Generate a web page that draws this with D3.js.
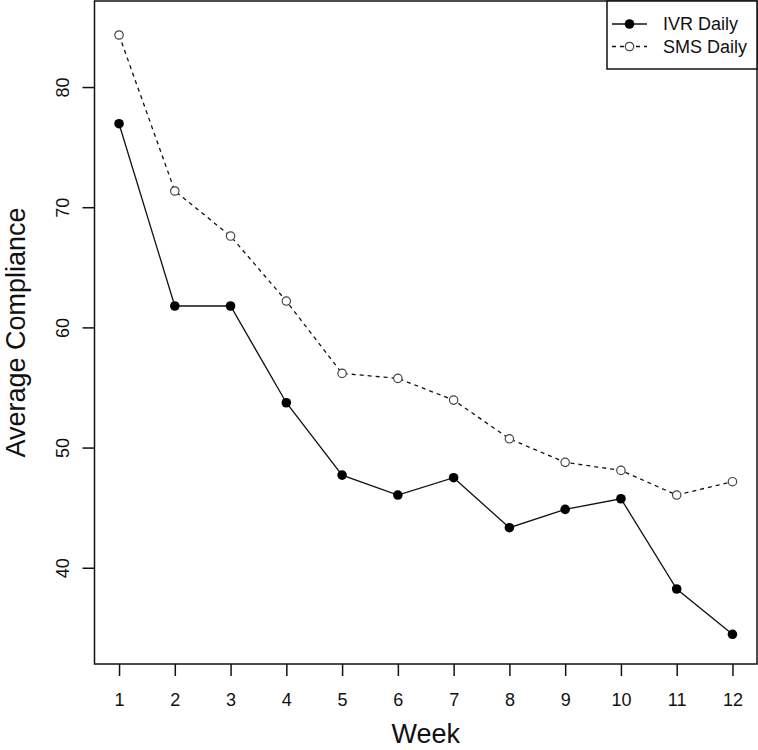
<!DOCTYPE html>
<html>
<head>
<meta charset="utf-8">
<script src="https://cdn.jsdelivr.net/npm/d3@7"></script>
<style>
  html, body { margin: 0; padding: 0; background: #fff; }
  svg { display: block; }
  text { font-family: "Liberation Sans", Arial, sans-serif; fill: #111; }
</style>
</head>
<body>
<svg id="chart" width="758" height="750"></svg>
<script>
const weeks = [1, 2, 3, 4, 5, 6, 7, 8, 9, 10, 11, 12];
const ivrDaily = [76.95, 61.78, 61.78, 53.73, 47.71, 46.05, 47.49, 43.33, 44.86, 45.74, 38.23, 34.46];
const smsDaily = [84.33, 71.35, 67.6, 62.19, 56.17, 55.76, 53.95, 50.73, 48.77, 48.1, 46.05, 47.16];
const yTicks = [40, 50, 60, 70, 80];
const seriesNames = ["IVR Daily", "SMS Daily"];

const svg = d3.select("#chart");
const pLeft = 94.5, pRight = 757, pTop = 1, pBottom = 664;

const x = d3.scaleLinear().domain([0.56, 12.44]).range([pLeft, pRight]);
const y = d3.scaleLinear().domain([31.99, 87.16]).range([pBottom, pTop]);

// frame
svg.append("rect")
  .attr("x", pLeft).attr("y", pTop)
  .attr("width", pRight - pLeft).attr("height", pBottom - pTop)
  .attr("fill", "none").attr("stroke", "#111").attr("stroke-width", 1.5);

// x axis
const xAxis = d3.axisBottom(x).tickValues(weeks).tickSize(12).tickPadding(17).tickFormat(d3.format("d"));
const gx = svg.append("g").attr("transform", `translate(0,${pBottom})`).call(xAxis);
gx.select(".domain").remove();
gx.selectAll(".tick line").attr("stroke", "#111").attr("stroke-width", 1.5);
gx.selectAll(".tick text").attr("font-size", 18).attr("fill", "#111")
  .attr("font-family", "Liberation Sans, Arial, sans-serif");

// y axis
const yAxis = d3.axisLeft(y).tickValues(yTicks).tickSize(12).tickFormat(d3.format("d"));
const gy = svg.append("g").attr("transform", `translate(${pLeft},0)`).call(yAxis);
gy.select(".domain").remove();
gy.selectAll(".tick line").attr("stroke", "#111").attr("stroke-width", 1.5);
gy.selectAll(".tick text").remove();
gy.selectAll(".tick").append("text")
  .attr("transform", "translate(-26,0) rotate(-90)")
  .attr("text-anchor", "middle")
  .attr("font-size", 18)
  .attr("fill", "#111")
  .text(d => d);

// titles
svg.append("text")
  .attr("x", (pLeft + pRight) / 2).attr("y", 743)
  .attr("text-anchor", "middle").attr("font-size", 27)
  .text("Week");
svg.append("text")
  .attr("transform", `translate(25,${(pTop + pBottom) / 2}) rotate(-90)`)
  .attr("text-anchor", "middle").attr("font-size", 27)
  .text("Average Compliance");

// lines
const line = d3.line().x((d, i) => x(weeks[i])).y(d => y(d));
svg.append("path").datum(ivrDaily).attr("d", line)
  .attr("fill", "none").attr("stroke", "#111").attr("stroke-width", 1.3);
svg.append("path").datum(smsDaily).attr("d", line)
  .attr("fill", "none").attr("stroke", "#111").attr("stroke-width", 1.3)
  .attr("stroke-dasharray", "4,4");

// points
svg.append("g").selectAll("circle").data(ivrDaily).join("circle")
  .attr("cx", (d, i) => x(weeks[i])).attr("cy", d => y(d))
  .attr("r", 4.8).attr("fill", "#000");
svg.append("g").selectAll("circle").data(smsDaily).join("circle")
  .attr("cx", (d, i) => x(weeks[i])).attr("cy", d => y(d))
  .attr("r", 4.2).attr("fill", "#fff").attr("stroke", "#444").attr("stroke-width", 1.2);

// legend
const lg = svg.append("g");
lg.append("rect").attr("x", 607).attr("y", pTop).attr("width", pRight - 607).attr("height", 68)
  .attr("fill", "#fff").attr("stroke", "#111").attr("stroke-width", 1.5);
const rows = [24, 46.5];
seriesNames.forEach((name, i) => {
  const yy = rows[i];
  lg.append("line").attr("x1", 612).attr("x2", 647).attr("y1", yy).attr("y2", yy)
    .attr("stroke", "#111").attr("stroke-width", 1.3)
    .attr("stroke-dasharray", i === 1 ? "4,4" : null);
  if (i === 0) {
    lg.append("circle").attr("cx", 629.5).attr("cy", yy).attr("r", 4.8).attr("fill", "#000");
  } else {
    lg.append("circle").attr("cx", 629.5).attr("cy", yy).attr("r", 4.2)
      .attr("fill", "#fff").attr("stroke", "#444").attr("stroke-width", 1.2);
  }
  lg.append("text").attr("x", 663).attr("y", yy).attr("dy", "0.36em")
    .attr("font-size", 18).attr("fill", "#111").text(name);
});
</script>
</body>
</html>
